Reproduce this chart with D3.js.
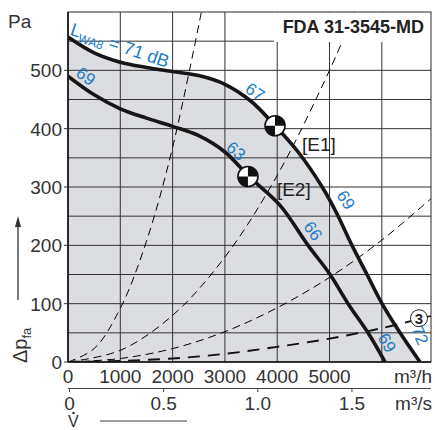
<!DOCTYPE html>
<html><head><meta charset="utf-8">
<script src="https://cdn.jsdelivr.net/npm/d3@7"></script>
<style>
html,body{margin:0;padding:0;background:#fff;}
svg{display:block;}
text{font-family:"Liberation Sans Narrow","Liberation Sans",Arial,sans-serif;}
</style></head><body>
<svg id="c" width="435" height="430"></svg>
<script>
// ---- data ----
const title = "FDA 31-3545-MD";
const xTicks = [0, 1000, 2000, 3000, 4000, 5000];
const xGrid = [1000, 2000, 3000, 4000, 5000, 6000];
const yTicks = [0, 100, 200, 300, 400, 500];
const yGrid = [50, 100, 150, 200, 250, 300, 350, 400, 450, 500, 550];
const sTicks = [0, 0.5, 1.0, 1.5];
const sTickLabels = ["0", "0.5", "1.0", "1.5"];

// characteristic curves: volume flow (m³/h), pressure (Pa)
const outerQ = [0, 500, 1000, 1500, 2000, 2500, 3000, 3500, 3960, 4400, 4860, 5120, 5430, 5717, 6004, 6348, 6730];
const outerP = [557, 530, 514, 505, 498, 491, 476, 447, 405, 360, 300, 258, 200, 150, 100, 50, 0];
const innerQ = [0, 500, 1000, 1500, 2000, 2500, 3000, 3460, 4050, 4590, 5010, 5354, 5736, 6061];
const innerP = [490, 458, 434, 418, 404, 388, 360, 318, 269, 200, 150, 100, 50, 0];

// system curves (dashed)
const sys1Q = [0, 500, 1000, 1500, 2000, 2550];
const sys1P = [0, 23, 92, 207, 368, 600];
const sys2Q = [0, 1000, 2000, 3000, 4000, 5000, 5480];
const sys2P = [0, 20, 80, 180, 320, 500, 600];
const sys3Q = [0, 1000, 2000, 3000, 4000, 5000, 6000, 6940];
const sys3P = [0, 6, 23, 52, 93, 145, 209, 280];
const sys4Q = [0, 1000, 2000, 3000, 4000, 5000, 6000, 6640];
const sys4P = [0, 2, 6, 14, 26, 40, 58, 72];
const sys4TailQ = [6800, 6940];
const sys4TailP = [76, 79];
const circle3 = {Q: 6711, P: 75, label: "3"};

// operating points
const opNames = ["[E1]", "[E2]"];
const opQ = [3958, 3440];
const opP = [405, 318];

// sound power labels (dB)
const lblText = ["69", "67", "63", "69", "66", "69", "72"];
const lblQ = [344, 3576, 3212, 5315, 4685, 6100, 6730];
const lblP = [490, 463, 362, 278, 225, 33, 46];
const lblAng = [35, 35, 40, 58, 55, 60, 65];

// ---- drawing ----
const svg = d3.select("#c");
const x = d3.scaleLinear().domain([0, 6940]).range([68, 431]);
const y = d3.scaleLinear().domain([0, 600]).range([362, 12]);
const xs = d3.scaleLinear().domain([0, 6940 / 3600]).range([68, 431]);

const blue = "#1b7cc6";
const txt = "#333";

svg.append("clipPath").attr("id", "plot").append("rect")
  .attr("x", 68).attr("y", 12).attr("width", 363).attr("height", 350);

const g = svg.append("g").attr("clip-path", "url(#plot)");

const cv = d3.curveCatmullRom.alpha(0.5);
const line = d3.line().x(d => x(d[0])).y(d => y(d[1])).curve(cv);
const area = d3.area().x(d => x(d[0])).y0(y(0)).y1(d => y(d[1])).curve(cv);
const zip = (a, b) => a.map((v, i) => [v, b[i]]);

// grey area
g.append("path").datum(zip(outerQ, outerP)).attr("d", area).attr("fill", "#dcdde0");

// grid
g.selectAll(".vg").data(xGrid).join("line")
  .attr("x1", d => x(d)).attr("x2", d => x(d)).attr("y1", y(0)).attr("y2", y(600))
  .attr("stroke", "#333").attr("stroke-width", 1);
g.selectAll(".hg").data(yGrid).join("line")
  .attr("x1", x(0)).attr("x2", x(6940)).attr("y1", d => y(d)).attr("y2", d => y(d))
  .attr("stroke", "#333").attr("stroke-width", 1);

// system curves
[[sys1Q, sys1P], [sys2Q, sys2P], [sys3Q, sys3P]].forEach(([q, p]) => {
  g.append("path").datum(zip(q, p)).attr("d", line).attr("fill", "none")
    .attr("stroke", "#000").attr("stroke-width", 1).attr("stroke-dasharray", "8,5");
});
g.append("path").datum(zip(sys4Q, sys4P)).attr("d", line).attr("fill", "none")
  .attr("stroke", "#111").attr("stroke-width", 1.9).attr("stroke-dasharray", "12,8");
g.append("path").datum(zip(sys4TailQ, sys4TailP)).attr("d", line).attr("fill", "none")
  .attr("stroke", "#111").attr("stroke-width", 1.5);

// title box (covers grid)
svg.append("rect").attr("x", 274).attr("y", 12.5).attr("width", 157).attr("height", 29.5).attr("fill", "#fff");

// frame
svg.append("rect").attr("x", 68).attr("y", 12).attr("width", 363).attr("height", 350)
  .attr("fill", "none").attr("stroke", "#2a2a2a").attr("stroke-width", 1);
svg.append("line").attr("x1", 68).attr("x2", 68).attr("y1", 12).attr("y2", 362).attr("stroke", "#111").attr("stroke-width", 1.6);
svg.append("line").attr("x1", 68).attr("x2", 431).attr("y1", 362).attr("y2", 362).attr("stroke", "#111").attr("stroke-width", 1.4);

// characteristic curves
g.append("path").datum(zip(outerQ, outerP)).attr("d", line).attr("fill", "none")
  .attr("stroke", "#161616").attr("stroke-width", 3.6);
g.append("path").datum(zip(innerQ, innerP)).attr("d", line).attr("fill", "none")
  .attr("stroke", "#161616").attr("stroke-width", 3.6);

// circle 3
svg.append("circle").attr("cx", x(circle3.Q)).attr("cy", y(circle3.P)).attr("r", 8.5)
  .attr("fill", "#fff").attr("stroke", "#222").attr("stroke-width", 1);
svg.append("text").attr("x", x(circle3.Q)).attr("y", y(circle3.P) + 5.5).attr("text-anchor", "middle")
  .attr("font-size", 15).attr("font-weight", "bold").attr("fill", "#222").text(circle3.label);

// operating point symbols
const r = 10;
const arc = d3.arc().innerRadius(0).outerRadius(r);
opQ.forEach((q, i) => {
  const s = svg.append("g").attr("transform", `translate(${x(q)},${y(opP[i])})`);
  s.append("circle").attr("r", r).attr("fill", "#fff");
  s.append("path").attr("d", arc({startAngle: 0, endAngle: Math.PI / 2})).attr("fill", "#111");
  s.append("path").attr("d", arc({startAngle: Math.PI, endAngle: 1.5 * Math.PI})).attr("fill", "#111");
  s.append("circle").attr("r", r).attr("fill", "none").attr("stroke", "#111").attr("stroke-width", 1.6);
});
svg.selectAll(".op").data(opNames).join("text")
  .attr("x", (d, i) => x(opQ[i]) + (i === 0 ? 27 : 29))
  .attr("y", (d, i) => y(opP[i]) + (i === 0 ? 25 : 19))
  .attr("font-size", 19).attr("fill", "#222").text(d => d);

// blue dB labels
svg.selectAll(".db").data(lblText).join("text")
  .attr("transform", (d, i) => `translate(${x(lblQ[i])},${y(lblP[i])}) rotate(${lblAng[i]})`)
  .attr("text-anchor", "middle").attr("dy", "0.35em")
  .attr("font-family", "Liberation Sans, Arial, sans-serif")
  .attr("font-size", 17).attr("fill", blue).text(d => d);

const lw = svg.append("text")
  .attr("transform", `translate(${x(994)},${y(543)}) rotate(19)`)
  .attr("text-anchor", "middle").attr("dy", "0.35em")
  .attr("font-family", "Liberation Sans, Arial, sans-serif")
  .attr("font-size", 18).attr("fill", blue);
lw.append("tspan").text("L");
lw.append("tspan").attr("font-size", 12).attr("dy", 4).text("WA8");
lw.append("tspan").attr("dy", -4).text(" = 71 dB");

// title
svg.append("text").attr("x", 424).attr("y", 33).attr("text-anchor", "end")
  .attr("font-size", 18).attr("font-weight", "bold").attr("fill", "#222").text(title);

// y axis labels
svg.selectAll(".yt").data(yTicks).join("text")
  .attr("x", 62).attr("y", d => y(d) + 7).attr("text-anchor", "end")
  .attr("font-size", 19).attr("fill", txt).text(d => d);
svg.selectAll(".ytk").data(yTicks).join("line")
  .attr("x1", 64).attr("x2", 68).attr("y1", d => y(d)).attr("y2", d => y(d))
  .attr("stroke", "#333").attr("stroke-width", 1);
svg.append("text").attr("x", 8).attr("y", 28).attr("font-size", 19).attr("fill", txt).text("Pa");

// y axis title
const yt = svg.append("text").attr("transform", "translate(27,363) rotate(-90)")
  .attr("font-size", 20).attr("fill", txt);
yt.append("tspan").text("Δp");
yt.append("tspan").attr("font-size", 13).attr("dy", 4).text("fa");
svg.append("line").attr("x1", 18).attr("x2", 18).attr("y1", 300).attr("y2", 224)
  .attr("stroke", "#333").attr("stroke-width", 1.3);
svg.append("path").attr("d", "M18,216 L15,227 L21,227 Z").attr("fill", "#333");

// x axis labels
svg.selectAll(".xt").data(xTicks).join("text")
  .attr("x", d => x(d)).attr("y", 383).attr("text-anchor", "middle")
  .attr("font-size", 19).attr("fill", txt).text(d => d);
svg.append("text").attr("x", 432).attr("y", 383).attr("text-anchor", "end")
  .attr("font-size", 19).attr("fill", txt).text("m³/h");

// second axis m³/s
svg.append("line").attr("x1", 68).attr("x2", 431).attr("y1", 388.5).attr("y2", 388.5)
  .attr("stroke", "#444").attr("stroke-width", 1);
svg.selectAll(".stk").data(sTicks).join("line")
  .attr("x1", d => xs(d) + 1.5).attr("x2", d => xs(d) + 1.5).attr("y1", 388).attr("y2", 392)
  .attr("stroke", "#444").attr("stroke-width", 1);
svg.selectAll(".st").data(sTicks).join("text")
  .attr("x", d => xs(d) + 1.5).attr("y", 410).attr("text-anchor", "middle")
  .attr("font-size", 19).attr("fill", txt).text((d, i) => sTickLabels[i]);
svg.append("text").attr("x", 432).attr("y", 410).attr("text-anchor", "end")
  .attr("font-size", 19).attr("fill", txt).text("m³/s");

// V dot
svg.append("text").attr("x", 68).attr("y", 427).attr("font-size", 16).attr("fill", txt).text("V");
svg.append("circle").attr("cx", 73.5).attr("cy", 413).attr("r", 1.3).attr("fill", txt);
svg.append("line").attr("x1", 100).attr("x2", 187).attr("y1", 421).attr("y2", 421)
  .attr("stroke", "#444").attr("stroke-width", 1);
</script>
</body></html>
